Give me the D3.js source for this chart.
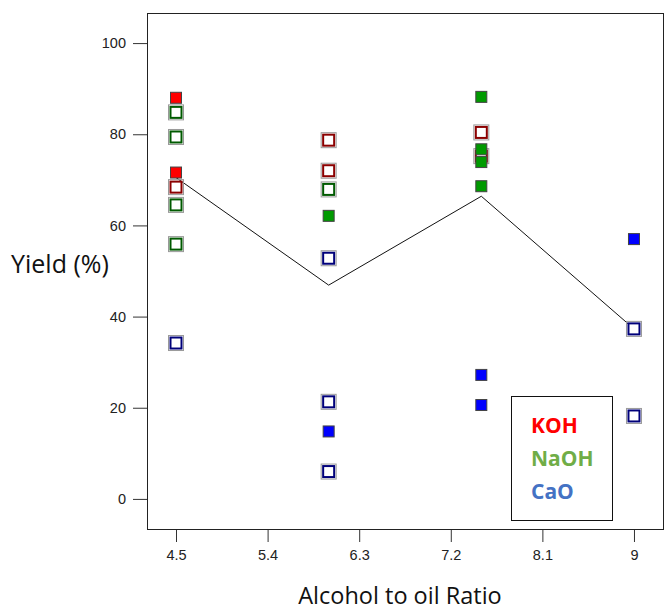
<!DOCTYPE html>
<html>
<head>
<meta charset="utf-8">
<script src="https://cdn.jsdelivr.net/npm/d3@7"></script>
<style>
  body { margin: 0; background: #fff; }
  svg { display: block; }
  .tick text { font-family: "Liberation Sans", Arial, sans-serif; font-size: 14.5px; fill: #222; }
  .tick line { stroke: #333; }
  .axis-title { font-family: "Open Sans", sans-serif; fill: #111; }
  .legend-text { font-family: "Open Sans", sans-serif; font-size: 21px; font-weight: bold; }
</style>
</head>
<body>
<svg id="chart"></svg>
<script>
// yield vs alcohol:oil ratio, three catalysts

const xTicks = [4.5, 5.4, 6.3, 7.2, 8.1, 9];
const yTicks = [0, 20, 40, 60, 80, 100];

const kohOpen = [
  { x: 4.5, y: 68.4 }, { x: 6, y: 78.7 }, { x: 6, y: 72.0 },
  { x: 7.5, y: 80.4 }, { x: 7.5, y: 75.2 }
];
const kohFilled = [
  { x: 4.5, y: 88.0 }, { x: 4.5, y: 71.6 }
];
const naohOpen = [
  { x: 4.5, y: 84.8 }, { x: 4.5, y: 79.4 }, { x: 4.5, y: 64.5 },
  { x: 4.5, y: 55.9 }, { x: 6, y: 67.9 }
];
const naohFilled = [
  { x: 6, y: 62.1 }, { x: 7.5, y: 88.2 }, { x: 7.5, y: 76.7 },
  { x: 7.5, y: 73.9 }, { x: 7.5, y: 68.6 }
];
const caoOpen = [
  { x: 4.5, y: 34.2 }, { x: 6, y: 52.8 }, { x: 6, y: 21.3 },
  { x: 6, y: 6.0 }, { x: 9, y: 37.3 }, { x: 9, y: 18.2 }
];
const caoFilled = [
  { x: 6, y: 14.8 }, { x: 7.5, y: 27.2 }, { x: 7.5, y: 20.6 }, { x: 9, y: 57.0 }
];

// mean trend line
const lineX = [4.5, 6, 7.5, 9];
const lineY = [70.5, 46.9, 66.4, 37.3];

const legendNames = ["KOH", "NaOH", "CaO"];
const legendColors = ["#ff0000", "#70ad47", "#4472c4"];

const W = 665, H = 611;
const M = { top: 13, right: 1, bottom: 82, left: 147 };

const svg = d3.select("#chart").attr("width", W).attr("height", H);

const x = d3.scaleLinear().domain([4.215, 9.295]).range([M.left, W - M.right]);
const y = d3.scaleLinear().domain([-6.6, 106.6]).range([H - M.bottom, M.top]);

//Axes
svg.append("g")
  .attr("transform", `translate(0,${H - M.bottom})`)
  .call(d3.axisBottom(x).tickValues(xTicks).tickSize(13).tickPadding(8).tickFormat(d3.format("")))
  .call(g => g.select(".domain").remove());

svg.append("g")
  .attr("transform", `translate(${M.left},0)`)
  .call(d3.axisLeft(y).tickValues(yTicks).tickSize(14).tickPadding(7))
  .call(g => g.select(".domain").remove());

//Frame
svg.append("rect")
  .attr("x", M.left + 0.5).attr("y", M.top + 0.5)
  .attr("width", W - M.right - M.left - 1).attr("height", H - M.bottom - M.top)
  .attr("fill", "none").attr("stroke", "#222");

//Trend line
svg.append("path")
  .datum(lineX.map((v, i) => [v, lineY[i]]))
  .attr("fill", "none").attr("stroke", "#111").attr("stroke-width", 1)
  .attr("d", d3.line().x(d => x(d[0])).y(d => y(d[1])));

function openSquares(data, color) {
  const s = 13;
  const g = svg.append("g");
  g.selectAll("rect.halo").data(data).enter().append("rect")
    .attr("class", "halo")
    .attr("x", d => x(d.x) - s / 2 - 1).attr("y", d => y(d.y) - s / 2 - 1)
    .attr("width", s + 2).attr("height", s + 2)
    .attr("fill", "none").attr("stroke", "#999").attr("stroke-width", 1);
  g.selectAll("rect.sq").data(data).enter().append("rect")
    .attr("class", "sq")
    .attr("x", d => x(d.x) - s / 2 + 1).attr("y", d => y(d.y) - s / 2 + 1)
    .attr("width", s - 2).attr("height", s - 2)
    .attr("fill", "#fff").attr("stroke", color).attr("stroke-width", 2);
}

function filledSquares(data, color) {
  const s = 11;
  svg.append("g").selectAll("rect").data(data).enter().append("rect")
    .attr("x", d => x(d.x) - s / 2).attr("y", d => y(d.y) - s / 2)
    .attr("width", s).attr("height", s)
    .attr("fill", color).attr("stroke", "#444").attr("stroke-width", 1);
}

openSquares(kohOpen, "#8b0000");
filledSquares(kohFilled, "#ff0000");
openSquares(naohOpen, "#005a00");
filledSquares(naohFilled, "#009a00");
openSquares(caoOpen, "#00007a");
filledSquares(caoFilled, "#0000ff");

//Axis titles
svg.append("text").attr("class", "axis-title")
  .attr("x", 11).attr("y", 273).style("font-size", "25px").text("Yield (%)");

svg.append("text").attr("class", "axis-title")
  .attr("x", 400).attr("y", 604).attr("text-anchor", "middle")
  .style("font-size", "23.5px")
  .text("Alcohol to oil Ratio");

//Legend
const leg = svg.append("g");
leg.append("rect")
  .attr("x", 511.5).attr("y", 396.5).attr("width", 101).attr("height", 124)
  .attr("fill", "#fff").attr("stroke", "#111").attr("stroke-width", 1);
leg.selectAll("text").data(legendNames).enter().append("text")
  .attr("class", "legend-text")
  .attr("x", 531).attr("y", (d, i) => 433 + i * 33)
  .attr("fill", (d, i) => legendColors[i])
  .text(d => d);
</script>
</body>
</html>
